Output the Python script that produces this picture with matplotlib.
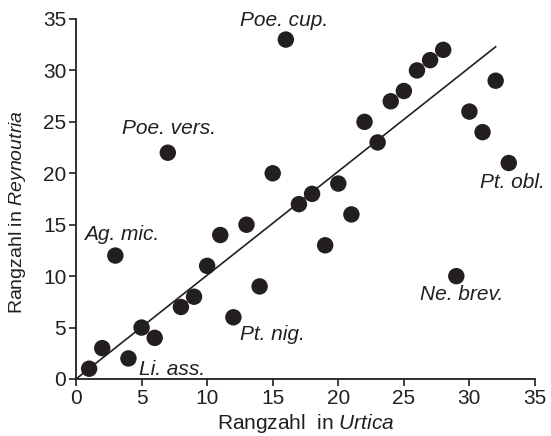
import matplotlib
matplotlib.use("Agg")
import matplotlib.pyplot as plt

# ranks of each species in the two habitats
rank_urtica = list(range(1, 34))
rank_reynoutria = [1, 3, 12, 2, 5, 4, 22, 7, 8, 11, 14, 6, 15, 9, 20, 33, 17,
                   18, 13, 19, 16, 25, 23, 27, 28, 30, 31, 32, 10, 26, 24, 29, 21]

# reference line
line_x = [0, 32]
line_y = [0, 32.3]

# species labels and where they sit
labels = ["Poe. cup.", "Poe. vers.", "Ag. mic.", "Li. ass.", "Pt. nig.", "Ne. brev.", "Pt. obl."]
label_x = [15.9, 7.1, 3.5, 7.3, 15.0, 29.4, 33.3]
label_y = [34.9, 24.4, 14.0, 0.9, 4.3, 8.2, 19.1]

ink = "#231f20"
plt.rcParams["font.family"] = ["Liberation Sans", "DejaVu Sans"]
plt.rcParams["mathtext.fontset"] = "custom"
plt.rcParams["mathtext.it"] = "Liberation Sans:italic"
plt.rcParams["mathtext.rm"] = "Liberation Sans"

fig = plt.figure(figsize=(5.51, 4.36), dpi=100)
ax = fig.add_axes([76 / 551, 1 - 379 / 436, (535 - 76) / 551, (379 - 19) / 436])

ax.plot(line_x, line_y, color=ink, lw=1.2, zorder=2)
ax.scatter(rank_urtica, rank_reynoutria, s=140, color=ink, edgecolors="none", zorder=3)

for t, x, y in zip(labels, label_x, label_y):
    ax.text(x, y, t, style="italic", fontsize=15, color=ink, ha="center", va="center")

ax.set_xlim(0, 35)
ax.set_ylim(0, 35)
ax.set_xticks(range(0, 36, 5))
ax.set_yticks(range(0, 36, 5))
ax.spines["top"].set_visible(False)
ax.spines["right"].set_visible(False)
for s in ("left", "bottom"):
    ax.spines[s].set_color(ink)
    ax.spines[s].set_linewidth(1.3)
ax.tick_params(colors=ink, labelsize=15, length=5, width=1.2, direction="out", pad=2)

ax.set_xlabel(r"Rangzahl  in $\mathit{Urtica}$", fontsize=15, color=ink, labelpad=3)
ax.set_ylabel(r"Rangzahl in $\mathit{Reynoutria}$", fontsize=14, color=ink)
ax.yaxis.set_label_coords(-0.105, 0.465)

fig.savefig("out.png", dpi=100)
